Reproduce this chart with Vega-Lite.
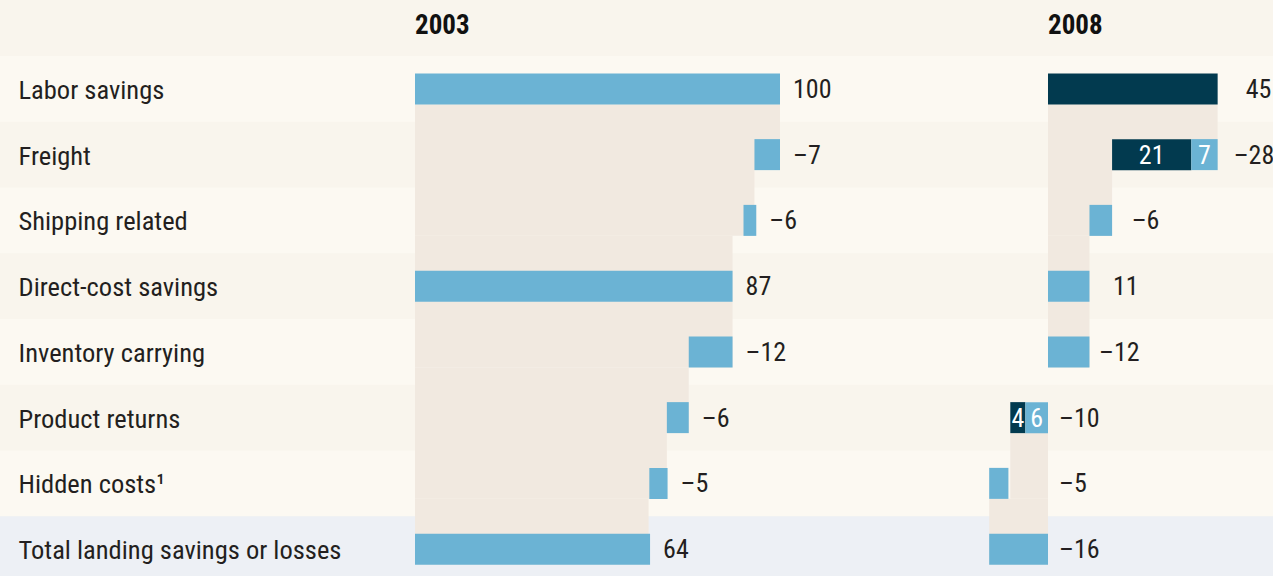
{
  "$schema": "https://vega.github.io/schema/vega-lite/v6.json",
  "background": "#f9f5ed",
  "padding": 0,
  "spacing": 0,
  "config": {
    "view": {"stroke": null},
    "font": "Roboto Condensed, Liberation Sans Narrow, Arial Narrow, DejaVu Sans Condensed, sans-serif"
  },
  "datasets": {
    "rows": [
      {"item": "Labor savings", "shade": "light"},
      {"item": "Freight", "shade": "dark"},
      {"item": "Shipping related", "shade": "light"},
      {"item": "Direct-cost savings", "shade": "dark"},
      {"item": "Inventory carrying", "shade": "light"},
      {"item": "Product returns", "shade": "dark"},
      {"item": "Hidden costs¹", "shade": "light"},
      {"item": "Total landing savings or losses", "shade": "total"}
    ],
    "conn": [
      {"year": "2003", "item": "Freight", "c0": 0, "c1": 100},
      {"year": "2003", "item": "Shipping related", "c0": 0, "c1": 93},
      {"year": "2003", "item": "Direct-cost savings", "c0": 0, "c1": 87},
      {"year": "2003", "item": "Inventory carrying", "c0": 0, "c1": 87},
      {"year": "2003", "item": "Product returns", "c0": 0, "c1": 75},
      {"year": "2003", "item": "Hidden costs¹", "c0": 0, "c1": 69},
      {"year": "2003", "item": "Total landing savings or losses", "c0": 0, "c1": 64},
      {"year": "2008", "item": "Freight", "c0": 0, "c1": 45},
      {"year": "2008", "item": "Shipping related", "c0": 0, "c1": 17},
      {"year": "2008", "item": "Direct-cost savings", "c0": 0, "c1": 11},
      {"year": "2008", "item": "Inventory carrying", "c0": 0, "c1": 11},
      {"year": "2008", "item": "Hidden costs¹", "c0": -10, "c1": 0},
      {"year": "2008", "item": "Total landing savings or losses", "c0": -15.6, "c1": 0}
    ],
    "bars": [
      {"year": "2003", "item": "Labor savings", "start": 0, "end": 100, "part": "b"},
      {"year": "2003", "item": "Freight", "start": 93, "end": 100, "part": "b"},
      {"year": "2003", "item": "Shipping related", "start": 90, "end": 93.5, "part": "b"},
      {"year": "2003", "item": "Direct-cost savings", "start": 0, "end": 87, "part": "b"},
      {"year": "2003", "item": "Inventory carrying", "start": 75, "end": 87, "part": "b"},
      {"year": "2003", "item": "Product returns", "start": 69, "end": 75, "part": "b"},
      {"year": "2003", "item": "Hidden costs¹", "start": 64.2, "end": 69.2, "part": "b"},
      {"year": "2003", "item": "Total landing savings or losses", "start": 0, "end": 64.4, "part": "b"},
      {"year": "2008", "item": "Labor savings", "start": 0, "end": 45, "part": "a"},
      {"year": "2008", "item": "Freight", "start": 17, "end": 38, "part": "a"},
      {"year": "2008", "item": "Freight", "start": 38, "end": 45, "part": "b"},
      {"year": "2008", "item": "Shipping related", "start": 11, "end": 17, "part": "b"},
      {"year": "2008", "item": "Direct-cost savings", "start": 0, "end": 11, "part": "b"},
      {"year": "2008", "item": "Inventory carrying", "start": 0, "end": 11, "part": "b"},
      {"year": "2008", "item": "Product returns", "start": -10, "end": -6, "part": "a"},
      {"year": "2008", "item": "Product returns", "start": -6, "end": 0, "part": "b"},
      {"year": "2008", "item": "Hidden costs¹", "start": -15.6, "end": -10.5, "part": "b"},
      {"year": "2008", "item": "Total landing savings or losses", "start": -15.6, "end": 0, "part": "b"}
    ],
    "inner": [
      {"year": "2008", "item": "Freight", "mid": 27.5, "txt": "21"},
      {"year": "2008", "item": "Freight", "mid": 41.5, "txt": "7"},
      {"year": "2008", "item": "Product returns", "mid": -8, "txt": "4"},
      {"year": "2008", "item": "Product returns", "mid": -3, "txt": "6"}
    ],
    "labels": [
      {"year": "2003", "item": "Labor savings", "at": 100, "txt": "100"},
      {"year": "2003", "item": "Freight", "at": 100, "txt": "–7"},
      {"year": "2003", "item": "Shipping related", "at": 93.5, "txt": "–6"},
      {"year": "2003", "item": "Direct-cost savings", "at": 87, "txt": "87"},
      {"year": "2003", "item": "Inventory carrying", "at": 87, "txt": "–12"},
      {"year": "2003", "item": "Product returns", "at": 75, "txt": "–6"},
      {"year": "2003", "item": "Hidden costs¹", "at": 69.2, "txt": "–5"},
      {"year": "2003", "item": "Total landing savings or losses", "at": 64.4, "txt": "64"},
      {"year": "2008", "item": "Labor savings", "at": 49, "txt": "45"},
      {"year": "2008", "item": "Freight", "at": 45.8, "txt": "–28"},
      {"year": "2008", "item": "Shipping related", "at": 18.75, "txt": "–6"},
      {"year": "2008", "item": "Direct-cost savings", "at": 13.8, "txt": "11"},
      {"year": "2008", "item": "Inventory carrying", "at": 10.1, "txt": "–12"},
      {"year": "2008", "item": "Product returns", "at": -0.5, "txt": "–10"},
      {"year": "2008", "item": "Hidden costs¹", "at": -0.5, "txt": "–5"},
      {"year": "2008", "item": "Total landing savings or losses", "at": -0.5, "txt": "–16"}
    ],
    "years": [
      {"year": "2003", "item": "hdr", "at": 0},
      {"year": "2008", "item": "hdr", "at": 0}
    ]
  },
  "hconcat": [
    {
      "width": 965,
      "height": 576,
      "encoding": {
        "y": {
          "field": "item", "type": "nominal", "sort": null,
          "scale": {
            "domain": ["hdr", "Labor savings", "Freight", "Shipping related", "Direct-cost savings", "Inventory carrying", "Product returns", "Hidden costs¹", "Total landing savings or losses"],
            "range": [-9.75, 582], "paddingInner": 0, "paddingOuter": 0
          },
          "axis": {
            "title": null, "domain": false, "ticks": false, "grid": false,
            "labelAlign": "left", "labelPadding": -18, "labelFontSize": 26.5, "labelOffset": 2,
            "labelFont": "Roboto Condensed, Liberation Sans Narrow, Arial Narrow, DejaVu Sans Condensed, sans-serif",
            "labelColor": "#231f20", "labelLimit": 400,
            "labelExpr": "datum.label == 'hdr' ? '' : datum.label"
          }
        }
      },
      "layer": [
        {
          "data": {"name": "rows"},
          "transform": [{"filter": "datum.shade == 'light'"}],
          "mark": {"type": "rect", "color": "#fcf9f2", "clip": true},
          "encoding": {"x": {"value": 0}, "x2": {"value": "width"}}
        },
        {
          "data": {"name": "rows"},
          "transform": [{"filter": "datum.shade == 'total'"}],
          "mark": {"type": "rect", "color": "#edf0f5", "clip": true},
          "encoding": {"x": {"value": 0}, "x2": {"value": "width"}}
        },
        {
          "data": {"name": "conn"},
          "transform": [{"filter": "datum.year == '2003'"}],
          "mark": {"type": "rect", "color": "#f1e9e0", "yOffset": -17.4},
          "encoding": {
            "x": {"field": "c0", "type": "quantitative", "scale": {"domain": [-113.699, 150.685], "nice": false, "zero": false}, "axis": null},
            "x2": {"field": "c1"}
          }
        },
        {
          "data": {"name": "bars"},
          "transform": [{"filter": "datum.year == '2003'"}],
          "mark": {"type": "bar", "size": 31},
          "encoding": {
            "x": {"field": "start", "type": "quantitative", "scale": {"domain": [-113.699, 150.685], "nice": false, "zero": false}, "axis": null},
            "x2": {"field": "end"},
            "color": {"field": "part", "type": "nominal", "scale": {"domain": ["a", "b"], "range": ["#023a4f", "#6bb3d4"]}, "legend": null}
          }
        },
        {
          "data": {"name": "labels"},
          "transform": [{"filter": "datum.year == '2003'"}],
          "mark": {"type": "text", "align": "left", "baseline": "middle", "dx": 13, "dy": 1, "fontSize": 26, "color": "#231f20"},
          "encoding": {
            "x": {"field": "at", "type": "quantitative", "scale": {"domain": [-113.699, 150.685], "nice": false, "zero": false}, "axis": null},
            "text": {"field": "txt"}
          }
        },
        {
          "data": {"name": "years"},
          "transform": [{"filter": "datum.year == '2003'"}],
          "mark": {"type": "text", "align": "left", "baseline": "middle", "dy": 3, "fontSize": 27, "fontWeight": "bold", "color": "#111111"},
          "encoding": {
            "x": {"field": "at", "type": "quantitative", "scale": {"domain": [-113.699, 150.685], "nice": false, "zero": false}, "axis": null},
            "text": {"field": "year"}
          }
        }
      ]
    },
    {
      "width": 308,
      "height": 576,
      "encoding": {
        "y": {
          "field": "item", "type": "nominal", "sort": null,
          "scale": {
            "domain": ["hdr", "Labor savings", "Freight", "Shipping related", "Direct-cost savings", "Inventory carrying", "Product returns", "Hidden costs¹", "Total landing savings or losses"],
            "range": [-9.75, 582], "paddingInner": 0, "paddingOuter": 0
          },
          "axis": null
        }
      },
      "layer": [
        {
          "data": {"name": "rows"},
          "transform": [{"filter": "datum.shade == 'light'"}],
          "mark": {"type": "rect", "color": "#fcf9f2", "clip": true},
          "encoding": {"x": {"value": 0}, "x2": {"value": "width"}}
        },
        {
          "data": {"name": "rows"},
          "transform": [{"filter": "datum.shade == 'total'"}],
          "mark": {"type": "rect", "color": "#edf0f5", "clip": true},
          "encoding": {"x": {"value": 0}, "x2": {"value": "width"}}
        },
        {
          "data": {"name": "conn"},
          "transform": [{"filter": "datum.year == '2008'"}],
          "mark": {"type": "rect", "color": "#f1e9e0", "yOffset": -17.4},
          "encoding": {
            "x": {"field": "c0", "type": "quantitative", "scale": {"domain": [-22.016, 59.682], "nice": false, "zero": false}, "axis": null},
            "x2": {"field": "c1"}
          }
        },
        {
          "data": {"name": "bars"},
          "transform": [{"filter": "datum.year == '2008'"}],
          "mark": {"type": "bar", "size": 31},
          "encoding": {
            "x": {"field": "start", "type": "quantitative", "scale": {"domain": [-22.016, 59.682], "nice": false, "zero": false}, "axis": null},
            "x2": {"field": "end"},
            "color": {"field": "part", "type": "nominal", "scale": {"domain": ["a", "b"], "range": ["#023a4f", "#6bb3d4"]}, "legend": null}
          }
        },
        {
          "data": {"name": "inner"},
          "mark": {"type": "text", "align": "center", "baseline": "middle", "dy": 1, "fontSize": 26, "color": "#ffffff"},
          "encoding": {
            "x": {"field": "mid", "type": "quantitative", "scale": {"domain": [-22.016, 59.682], "nice": false, "zero": false}, "axis": null},
            "text": {"field": "txt"}
          }
        },
        {
          "data": {"name": "labels"},
          "transform": [{"filter": "datum.year == '2008'"}],
          "mark": {"type": "text", "align": "left", "baseline": "middle", "dx": 13, "dy": 1, "fontSize": 26, "color": "#231f20"},
          "encoding": {
            "x": {"field": "at", "type": "quantitative", "scale": {"domain": [-22.016, 59.682], "nice": false, "zero": false}, "axis": null},
            "text": {"field": "txt"}
          }
        },
        {
          "data": {"name": "years"},
          "transform": [{"filter": "datum.year == '2008'"}],
          "mark": {"type": "text", "align": "left", "baseline": "middle", "dy": 3, "fontSize": 27, "fontWeight": "bold", "color": "#111111"},
          "encoding": {
            "x": {"field": "at", "type": "quantitative", "scale": {"domain": [-22.016, 59.682], "nice": false, "zero": false}, "axis": null},
            "text": {"field": "year"}
          }
        }
      ]
    }
  ]
}
